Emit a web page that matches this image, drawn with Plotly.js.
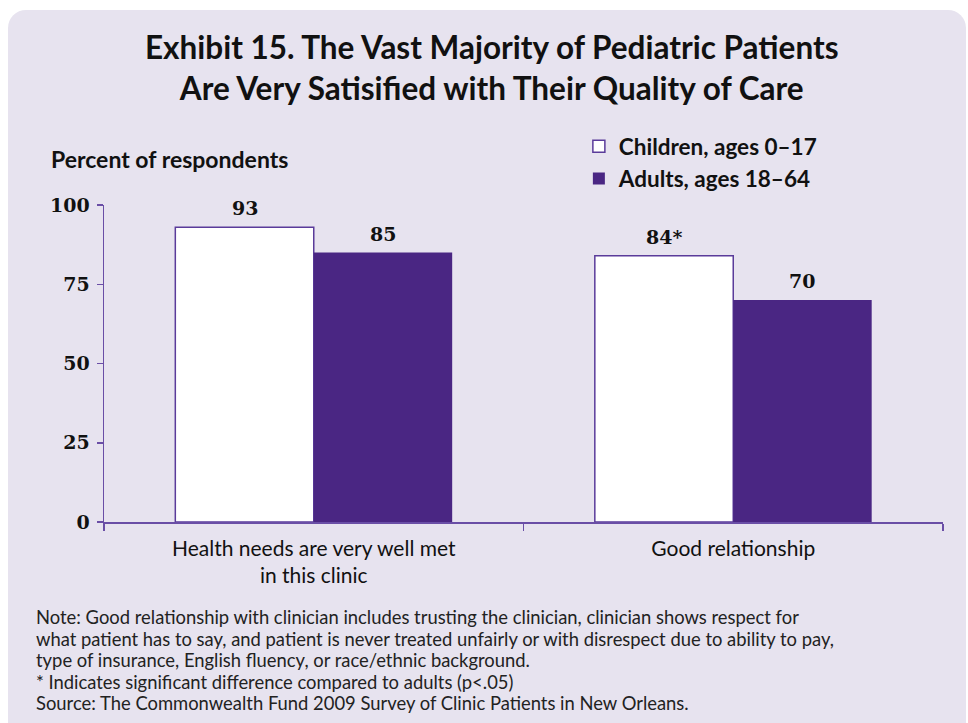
<!DOCTYPE html>
<html>
<head>
<meta charset="utf-8">
<script src="https://cdn.plot.ly/plotly-3.0.1.min.js"></script>
<style>
  html, body { margin: 0; padding: 0; background: #ffffff; }
  #frame { position: absolute; left: 8px; top: 10px; width: 958px; height: 740px;
           background: #e7e3ef; border-radius: 18px; }
  #chart { position: absolute; left: 0; top: 0; width: 968px; height: 723px; }
</style>
</head>
<body>
<div id="frame"></div>
<div id="chart"></div>
<script>
const categories = ['Health needs are very well met<br>in this clinic', 'Good relationship'];
const seriesNames = ['Children, ages 0\u201317', 'Adults, ages 18\u201364'];
const childrenValues = [93, 84];
const adultValues = [85, 70];
const childrenLabels = ['93', '84*'];
const adultLabels = ['85', '70'];
const yTicks = [0, 25, 50, 75, 100];
const titleText = 'Exhibit 15. The Vast Majority of Pediatric Patients<br>Are Very Satisified with Their Quality of Care';
const yTitleText = 'Percent of respondents';
const noteLines = [
  'Note: Good relationship with clinician includes trusting the clinician, clinician shows respect for',
  'what patient has to say, and patient is never treated unfairly or with disrespect due to ability to pay,',
  'type of insurance, English fluency, or race/ethnic background.',
  '* Indicates significant difference compared to adults (p<.05)',
  'Source: The Commonwealth Fund 2009 Survey of Clinic Patients in New Orleans.'
];

const purple = '#4a2683';
const axisPurple = '#6a4ea6';
const sansFont = 'Lato, "Open Sans", sans-serif';
const serifFont = '"DejaVu Serif", "Liberation Serif", serif';

const bargap = 0.34;
const barHalf = (1 - bargap) / 4;

const traces = [
  { type: 'bar', name: seriesNames[0], x: categories, y: childrenValues,
    marker: { color: '#ffffff', line: { color: '#5a3b9a', width: 1.5 } }, hoverinfo: 'none' },
  { type: 'bar', name: seriesNames[1], x: categories, y: adultValues,
    marker: { color: purple, line: { color: purple, width: 0 } }, hoverinfo: 'none' }
];

const valueFont = { family: serifFont, size: 19, color: '#111111', weight: 'bold' };
const annotations = [];
categories.forEach((c, i) => {
  annotations.push({ x: i - barHalf, y: childrenValues[i], xref: 'x', yref: 'y', text: childrenLabels[i],
    showarrow: false, yanchor: 'bottom', yshift: 6, font: valueFont });
  annotations.push({ x: i + barHalf, y: adultValues[i], xref: 'x', yref: 'y', text: adultLabels[i],
    showarrow: false, yanchor: 'bottom', yshift: 6, font: valueFont });
});
annotations.push({ xref: 'paper', yref: 'paper', x: 0, y: 1, xshift: -55, yshift: 46,
  xanchor: 'left', yanchor: 'middle', showarrow: false, text: yTitleText,
  font: { family: sansFont, size: 23, color: '#111111', weight: 'bold' } });
noteLines.forEach((line, k) => {
  annotations.push({ xref: 'paper', yref: 'paper', x: 0, y: 0, xshift: -70, yshift: -95 - k * 21.5,
    xanchor: 'left', yanchor: 'middle', align: 'left', showarrow: false, text: line,
    font: { family: sansFont, size: 18.4, color: '#222222' } });
});

const layout = {
  width: 968, height: 723,
  paper_bgcolor: 'rgba(0,0,0,0)', plot_bgcolor: 'rgba(0,0,0,0)',
  margin: { l: 104, r: 25, t: 205, b: 201 },
  barmode: 'group', bargap: bargap, bargroupgap: 0,
  showlegend: true,
  title: { text: titleText, x: 0.508, xref: 'container', xanchor: 'center',
           y: 1 - 59 / 723, yref: 'container', yanchor: 'top',
           font: { family: sansFont, size: 31.5, color: '#111111', weight: 'bold' } },
  legend: { x: 0.566, xanchor: 'left', y: 1.252, yanchor: 'top', bgcolor: 'rgba(0,0,0,0)',
            font: { family: sansFont, size: 22.5, color: '#111111', weight: 'bold' },
            itemclick: false, tracegroupgap: 0 },
  xaxis: { type: 'category', showline: true, linecolor: axisPurple, linewidth: 1.5,
           ticks: 'outside', tickson: 'boundaries', ticklen: 7, tickcolor: axisPurple, tickwidth: 1.5,
           ticklabelstandoff: 7,
           showgrid: false, zeroline: false, fixedrange: true,
           tickfont: { family: sansFont, size: 21, color: '#111111' } },
  yaxis: { range: [0, 100], tickvals: yTicks, showline: true, linecolor: axisPurple, linewidth: 1.5,
           ticks: 'outside', ticklen: 6, tickcolor: axisPurple, tickwidth: 1.5,
           ticklabelstandoff: 3,
           showgrid: false, zeroline: false, fixedrange: true,
           tickfont: { family: serifFont, size: 19, color: '#111111', weight: 'bold' } },
  annotations: annotations
};

Plotly.newPlot('chart', traces, layout, { displayModeBar: false, staticPlot: true });
</script>
</body>
</html>
